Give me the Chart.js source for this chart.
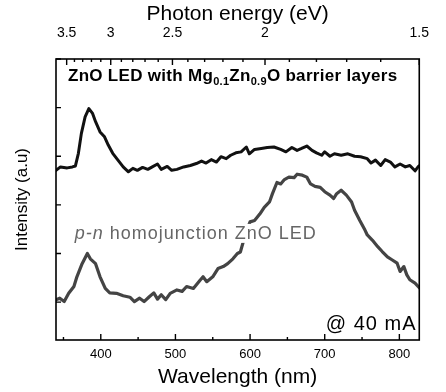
<!DOCTYPE html>
<html>
<head>
<meta charset="utf-8">
<style>
  html, body { margin: 0; padding: 0; background: #fff; }
  canvas { display: block; }
</style>
<script src="https://cdn.jsdelivr.net/npm/chart.js@4/dist/chart.umd.min.js"></script>
</head>
<body>
<canvas id="el" width="446" height="392"></canvas>
<script>
// Electroluminescence spectra of two ZnO LEDs at 40 mA (vertically offset traces)

// ZnO LED with Mg0.1Zn0.9O barrier layers
const barrierWavelength = [
  340, 346, 355, 362, 366, 370, 374, 379, 384, 389,
  393, 399, 405, 410, 416, 423, 430, 437, 443, 449,
  456, 463, 469, 476, 481, 489, 495, 502, 511, 520,
  528, 535, 541, 548, 555, 561, 568, 574, 581, 588,
  595, 599, 606, 615, 623, 632, 641, 648, 656, 663,
  669, 676, 683, 689, 696, 700, 707, 713, 722, 731,
  740, 748, 757, 762, 768, 775, 781, 788, 794, 801,
  808, 814, 821, 825, 827
];
const barrierIntensity = [
  3.71, 3.78, 3.76, 3.78, 3.80, 4.06, 4.47, 4.81, 4.98, 4.88,
  4.71, 4.50, 4.40, 4.23, 4.06, 3.92, 3.78, 3.68, 3.75, 3.71,
  3.77, 3.73, 3.78, 3.84, 3.73, 3.79, 3.71, 3.73, 3.78, 3.81,
  3.85, 3.90, 3.86, 3.93, 3.88, 3.99, 3.95, 4.02, 4.07, 4.09,
  4.19, 4.05, 4.14, 4.16, 4.18, 4.19, 4.14, 4.09, 4.18, 4.12,
  4.16, 4.21, 4.12, 4.07, 4.02, 4.09, 4.00, 4.05, 4.02, 4.05,
  4.00, 3.99, 3.95, 3.86, 3.92, 3.81, 3.93, 3.88, 3.78, 3.84,
  3.78, 3.81, 3.70, 3.78, 3.81
];

// p-n homojunction ZnO LED
const homoWavelength = [
  340, 345, 351, 357, 364, 368, 375, 382, 386, 393,
  399, 406, 412, 421, 430, 439, 445, 452, 458, 465,
  471, 476, 481, 487, 493, 502, 509, 515, 524, 533,
  537, 542, 550, 557, 564, 570, 577, 583, 587, 592,
  596, 600, 606, 613, 619, 626, 630, 636, 641, 646,
  652, 659, 663, 670, 676, 681, 687, 694, 700, 707,
  712, 716, 722, 729, 736, 740, 747, 753, 757, 764,
  771, 777, 784, 790, 797, 801, 806, 810, 814, 821,
  827
];
const homoIntensity = [
  1.05, 1.08, 1.01, 1.18, 1.32, 1.52, 1.79, 2.00, 1.89, 1.79,
  1.52, 1.28, 1.19, 1.18, 1.13, 1.10, 1.01, 1.08, 1.01, 1.11,
  1.19, 1.06, 1.15, 1.05, 1.18, 1.25, 1.22, 1.32, 1.28, 1.45,
  1.52, 1.42, 1.52, 1.69, 1.73, 1.79, 1.89, 2.00, 2.03, 2.30,
  2.50, 2.65, 2.68, 2.81, 2.95, 3.06, 3.23, 3.46, 3.43, 3.52,
  3.57, 3.56, 3.63, 3.61, 3.57, 3.43, 3.38, 3.36, 3.27, 3.20,
  3.13, 3.23, 3.30, 3.20, 3.06, 2.89, 2.68, 2.51, 2.38, 2.27,
  2.14, 2.04, 1.93, 1.87, 1.80, 1.63, 1.73, 1.56, 1.46, 1.39,
  1.29
];

// Axis ticks
const wavelengthTicks = [400, 500, 600, 700, 800];
const wavelengthMinorTicks = [350, 450, 550, 650, 750];
const energyTicks = [3.5, 3, 2.5, 2, 1.5];
const energyLabels = ['3.5', '3', '2.5', '2', '1.5'];
const energyMinorTicks = [3.4, 3.3, 3.2, 3.1, 2.9, 2.8, 2.7, 2.6, 2.4, 2.3, 2.2, 2.1, 1.9, 1.8, 1.7, 1.6];
const intensityTicks = [1, 2, 3, 4, 5, 6];

const HC = 1240; // eV·nm
const WL_MIN = 340;
const WL_MAX = HC / 1.5;

const FONT = "'Liberation Sans', Arial, Helvetica, sans-serif";
Chart.defaults.font.family = FONT;
Chart.defaults.color = '#000';

const toPoints = (xs, ys) => xs.map((x, i) => ({ x, y: ys[i] }));

// label anchors in data units (nm, intensity)
const notes = {
  barrier: { nm: 356, at: 5.55 },
  homo: { nm: 365, at: 2.30 },
  current: { nm: 823, at: 0.43 }
};

const whiteBackground = {
  id: 'whiteBackground',
  beforeDraw(chart) {
    const { ctx, width, height } = chart;
    ctx.save();
    ctx.fillStyle = '#fff';
    ctx.fillRect(0, 0, width, height);
    ctx.restore();
  }
};

function drawRuns(ctx, runs, x, y) {
  let cx = x;
  for (const r of runs) {
    ctx.font = r.font;
    ctx.fillText(r.text, cx, y + (r.dy || 0));
    cx += ctx.measureText(r.text).width;
  }
  return cx;
}

const annotations = {
  id: 'annotations',
  afterDatasetsDraw(chart) {
    const { ctx, scales: { x, y } } = chart;
    ctx.save();
    ctx.textBaseline = 'alphabetic';
    ctx.textAlign = 'left';

    // upper trace label with subscripts
    ctx.fillStyle = '#000';
    ctx.letterSpacing = '0.3px';
    drawRuns(ctx, [
      { text: 'ZnO LED with Mg', font: `bold 17px ${FONT}` },
      { text: '0.1', font: `bold 11px ${FONT}`, dy: 4 },
      { text: 'Zn', font: `bold 17px ${FONT}` },
      { text: '0.9', font: `bold 11px ${FONT}`, dy: 4 },
      { text: 'O barrier layers', font: `bold 17px ${FONT}` }
    ], x.getPixelForValue(notes.barrier.nm), y.getPixelForValue(notes.barrier.at));

    // lower trace label on a white patch
    ctx.letterSpacing = '1px';
    const hx = x.getPixelForValue(notes.homo.nm);
    const hy = y.getPixelForValue(notes.homo.at);
    const homoRuns = [
      { text: 'p-n', font: `italic 18px ${FONT}` },
      { text: ' homojunction ZnO LED', font: `18px ${FONT}` }
    ];
    let w = 0;
    for (const r of homoRuns) { ctx.font = r.font; w += ctx.measureText(r.text).width; }
    ctx.fillStyle = '#fff';
    ctx.fillRect(hx - 2, hy - 15, w + 4, 19);
    ctx.fillStyle = '#666';
    drawRuns(ctx, homoRuns, hx, hy);

    // drive current
    ctx.fillStyle = '#000';
    ctx.textAlign = 'right';
    ctx.font = `20px ${FONT}`;
    ctx.fillText('@ 40 mA', x.getPixelForValue(notes.current.nm), y.getPixelForValue(notes.current.at));
    ctx.restore();
  }
};

const frameTicks = {
  id: 'frameTicks',
  afterDatasetsDraw(chart) {
    const { ctx, chartArea: a, scales: { x, y } } = chart;
    ctx.save();
    ctx.strokeStyle = '#000';
    ctx.lineWidth = 1.6;
    ctx.strokeRect(a.left, a.top, a.right - a.left, a.bottom - a.top);
    ctx.lineWidth = 1.4;
    ctx.beginPath();
    const vTick = (px, yEdge, len) => { ctx.moveTo(px, yEdge); ctx.lineTo(px, yEdge + len); };
    wavelengthTicks.forEach(v => vTick(x.getPixelForValue(v), a.bottom, -6));
    wavelengthMinorTicks.forEach(v => vTick(x.getPixelForValue(v), a.bottom, -3));
    energyTicks.forEach(e => vTick(x.getPixelForValue(HC / e), a.top, 6));
    energyMinorTicks.forEach(e => vTick(x.getPixelForValue(HC / e), a.top, 3));
    intensityTicks.forEach(v => {
      const py = y.getPixelForValue(v);
      ctx.moveTo(a.left, py);
      ctx.lineTo(a.left + 5, py);
    });
    ctx.stroke();
    ctx.restore();
  }
};

new Chart(document.getElementById('el'), {
  type: 'line',
  data: {
    datasets: [
      {
        label: 'ZnO LED with Mg0.1Zn0.9O barrier layers',
        data: toPoints(barrierWavelength, barrierIntensity),
        borderColor: '#111',
        borderWidth: 3
      },
      {
        label: 'p-n homojunction ZnO LED',
        data: toPoints(homoWavelength, homoIntensity),
        borderColor: '#444',
        borderWidth: 3.2
      },
      {
        label: 'p-n homojunction ZnO LED (core)',
        data: toPoints(homoWavelength, homoIntensity),
        borderColor: '#9c9c9c',
        borderWidth: 1.1
      }
    ]
  },
  options: {
    responsive: false,
    animation: false,
    devicePixelRatio: 1,
    parsing: false,
    elements: { point: { radius: 0 }, line: { tension: 0, borderJoinStyle: 'round', borderCapStyle: 'round' } },
    layout: { padding: { top: 0, right: 18, bottom: 0, left: 0 } },
    plugins: { legend: { display: false }, tooltip: { enabled: false } },
    scales: {
      x: {
        type: 'linear',
        position: 'bottom',
        min: WL_MIN,
        max: WL_MAX,
        grid: { display: false, drawTicks: false },
        border: { display: false },
        afterBuildTicks: s => { s.ticks = wavelengthTicks.map(v => ({ value: v })); },
        ticks: { autoSkip: false, maxRotation: 0, padding: 7, font: { size: 13 }, callback: v => String(v) },
        title: { display: true, text: 'Wavelength (nm)', font: { size: 21 }, padding: { top: 0, bottom: 2 } },
        afterFit: s => { s.height = 52; }
      },
      xTop: {
        type: 'linear',
        position: 'top',
        min: WL_MIN,
        max: WL_MAX,
        grid: { display: false, drawTicks: false },
        border: { display: false },
        afterBuildTicks: s => { s.ticks = energyTicks.map(e => ({ value: HC / e })); },
        ticks: { autoSkip: false, maxRotation: 0, padding: 17, font: { size: 14 }, callback: (v, i) => energyLabels[i] },
        title: { display: true, text: 'Photon energy (eV)', font: { size: 21 }, padding: { top: 2, bottom: 0 } },
        afterFit: s => { s.height = 59; }
      },
      y: {
        type: 'linear',
        position: 'left',
        min: 0.22,
        max: 6,
        grid: { display: false, drawTicks: false },
        border: { display: false },
        afterBuildTicks: s => { s.ticks = intensityTicks.map(v => ({ value: v })); },
        ticks: { display: false },
        title: { display: true, text: 'Intensity (a.u)', font: { size: 17 }, padding: { top: 12, bottom: 0 } },
        afterFit: s => { s.width = 56; }
      }
    }
  },
  plugins: [whiteBackground, frameTicks, annotations]
});
</script>
</body>
</html>
